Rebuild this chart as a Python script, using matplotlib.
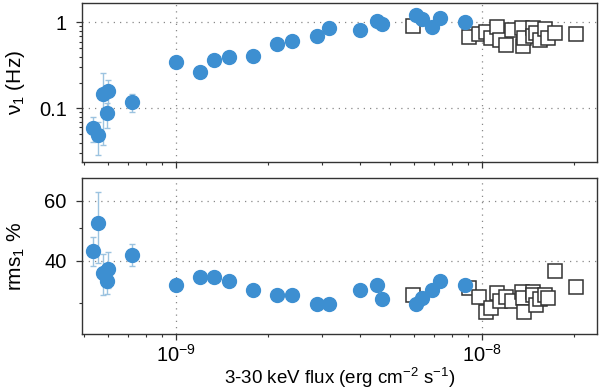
import numpy as np
import matplotlib
matplotlib.use("Agg")
import matplotlib.pyplot as plt
from matplotlib.ticker import FixedLocator, NullFormatter, FixedFormatter

plt.rcParams['font.family'] = ['Liberation Sans', 'DejaVu Sans']
plt.rcParams['mathtext.fontset'] = 'custom'
plt.rcParams['mathtext.rm'] = 'Liberation Sans'
plt.rcParams['mathtext.it'] = 'Liberation Sans'
plt.rcParams['mathtext.bf'] = 'Liberation Sans'

# --- data: circles (flux, nu1, rms1) ---
flux_c = np.array([5.38e-10, 5.58e-10, 5.80e-10, 6.02e-10, 5.95e-10, 7.22e-10,
                   1.00e-9, 1.20e-9, 1.334e-9, 1.497e-9, 1.789e-9, 2.148e-9,
                   2.405e-9, 2.89e-9, 3.18e-9, 4.01e-9, 4.55e-9, 4.73e-9,
                   6.09e-9, 6.40e-9, 6.87e-9, 7.31e-9, 8.82e-9])
nu_c = np.array([0.0594, 0.049, 0.147, 0.159, 0.0875, 0.118,
                 0.348, 0.267, 0.361, 0.398, 0.409, 0.56,
                 0.607, 0.70, 0.865, 0.807, 1.03, 0.973,
                 1.216, 1.11, 0.889, 1.13, 1.02])
nu_err = np.array([0.019, 0.020, 0.110, 0.055, 0.028, 0.028] + [0.0] * 17)
rms_c = np.array([42.8, 51.5, 36.8, 37.9, 34.9, 41.7,
                  33.9, 35.9, 35.9, 34.97, 32.9, 31.8,
                  31.8, 29.9, 29.9, 32.9, 34.0, 30.9,
                  29.9, 31.1, 32.9, 34.8, 33.9])
rms_err = np.array([4.3, 12.0, 5.0, 4.5, 3.0, 3.2] + [0.0] * 17)

# --- data: squares ---
flux_s = np.array([5.95e-9, 9.09e-9, 9.8e-9, 1.033e-8, 1.07e-8, 1.12e-8, 1.148e-8,
                   1.2e-8, 1.253e-8, 1.36e-8, 1.367e-8, 1.374e-8, 1.468e-8, 1.475e-8,
                   1.51e-8, 1.55e-8, 1.61e-8, 1.65e-8, 1.74e-8, 2.04e-8])
nu_s = np.array([0.913, 0.67, 0.725, 0.778, 0.662, 0.889, 0.623,
                 0.545, 0.814, 0.865, 0.535, 0.652, 0.852, 0.699,
                 0.745, 0.623, 0.836, 0.652, 0.745, 0.731])
rms_s = np.array([31.8, 33.3, 31.4, 28.4, 29.1, 32.1, 30.4,
                  31.4, 30.4, 32.5, 31.1, 28.4, 32.5, 31.8,
                  29.7, 31.0, 31.8, 31.1, 37.4, 33.5])

blue = '#3d8fd1'
errc = '#9cc3e0'

fig = plt.figure(figsize=(6.0, 3.92), dpi=100)
ax1 = fig.add_axes([0.1367, 0.587, 0.858, 0.405])
ax2 = fig.add_axes([0.1367, 0.148, 0.858, 0.398])

grid_kw = dict(color='#888888', lw=0.9, ls=(0, (1, 4)), zorder=0)

def style(ax):
    ax.set_xscale('log')
    ax.set_yscale('log')
    ax.set_xlim(4.94e-10, 2.38e-8)
    for s in ax.spines.values():
        s.set_color('#333333')
        s.set_linewidth(1.0)
    ax.tick_params(which='both', direction='out', top=False, right=False,
                   color='#333333', labelsize=14.5)
    ax.tick_params(axis='y', which='major', length=4, width=0.9, pad=7)
    ax.tick_params(axis='x', which='major', length=4, width=0.9, pad=3)
    ax.tick_params(which='minor', length=2.5, width=0.8)
    ax.xaxis.set_major_locator(FixedLocator([1e-9, 1e-8]))
    minors = [m * 1e-10 for m in range(5, 10)] + [m * 1e-9 for m in range(2, 10)] + [2e-8]
    ax.xaxis.set_minor_locator(FixedLocator(minors))
    ax.xaxis.set_minor_formatter(NullFormatter())
    for xv in [1e-9, 1e-8]:
        ax.axvline(xv, **grid_kw)

# top panel
style(ax1)
ax1.set_ylim(0.0238, 1.68)
ax1.yaxis.set_major_locator(FixedLocator([0.1, 1]))
ax1.yaxis.set_major_formatter(FixedFormatter(['0.1', '1']))
ymin1 = [m * 0.01 for m in range(3, 10)] + [m * 0.1 for m in range(2, 10)]
ax1.yaxis.set_minor_locator(FixedLocator(ymin1))
ax1.yaxis.set_minor_formatter(NullFormatter())
ax1.xaxis.set_major_formatter(NullFormatter())
for yv in [0.1, 1]:
    ax1.axhline(yv, **grid_kw)
m = nu_err > 0
ax1.errorbar(flux_c[m], nu_c[m], yerr=nu_err[m], fmt='none', ecolor=errc,
             elinewidth=1.0, capsize=2.5, capthick=1.0, zorder=2)
ax1.plot(flux_s, nu_s, 's', ms=10.5, mfc='white', mec='#333333', mew=1.1, zorder=3)
ax1.plot(flux_c, nu_c, 'o', ms=10, color=blue, mec=blue, zorder=4)
ax1.set_ylabel(r'$\nu_1$ (Hz)', fontsize=15)
ax1.yaxis.set_label_coords(-0.106, 0.5)

# bottom panel
style(ax2)
ax2.set_ylim(24.4, 70)
ax2.yaxis.set_major_locator(FixedLocator([40, 60]))
ax2.yaxis.set_major_formatter(FixedFormatter(['40', '60']))
ax2.yaxis.set_minor_locator(FixedLocator([30, 50]))
ax2.yaxis.set_minor_formatter(NullFormatter())
ax2.xaxis.set_major_formatter(FixedFormatter([r'$10^{-9}$', r'$10^{-8}$']))
for yv in [40, 60]:
    ax2.axhline(yv, **grid_kw)
m = rms_err > 0
ax2.errorbar(flux_c[m], rms_c[m], yerr=rms_err[m], fmt='none', ecolor=errc,
             elinewidth=1.0, capsize=2.5, capthick=1.0, zorder=2)
ax2.plot(flux_s, rms_s, 's', ms=10.5, mfc='white', mec='#333333', mew=1.1, zorder=3)
ax2.plot(flux_c, rms_c, 'o', ms=10, color=blue, mec=blue, zorder=4)
ax2.set_ylabel(r'rms$_1$ %', fontsize=15)
ax2.yaxis.set_label_coords(-0.106, 0.5)
ax2.set_xlabel(r'3-30 keV flux (erg cm$^{-2}$ s$^{-1}$)', fontsize=13.5, labelpad=0)

fig.savefig('out.png', dpi=100)
